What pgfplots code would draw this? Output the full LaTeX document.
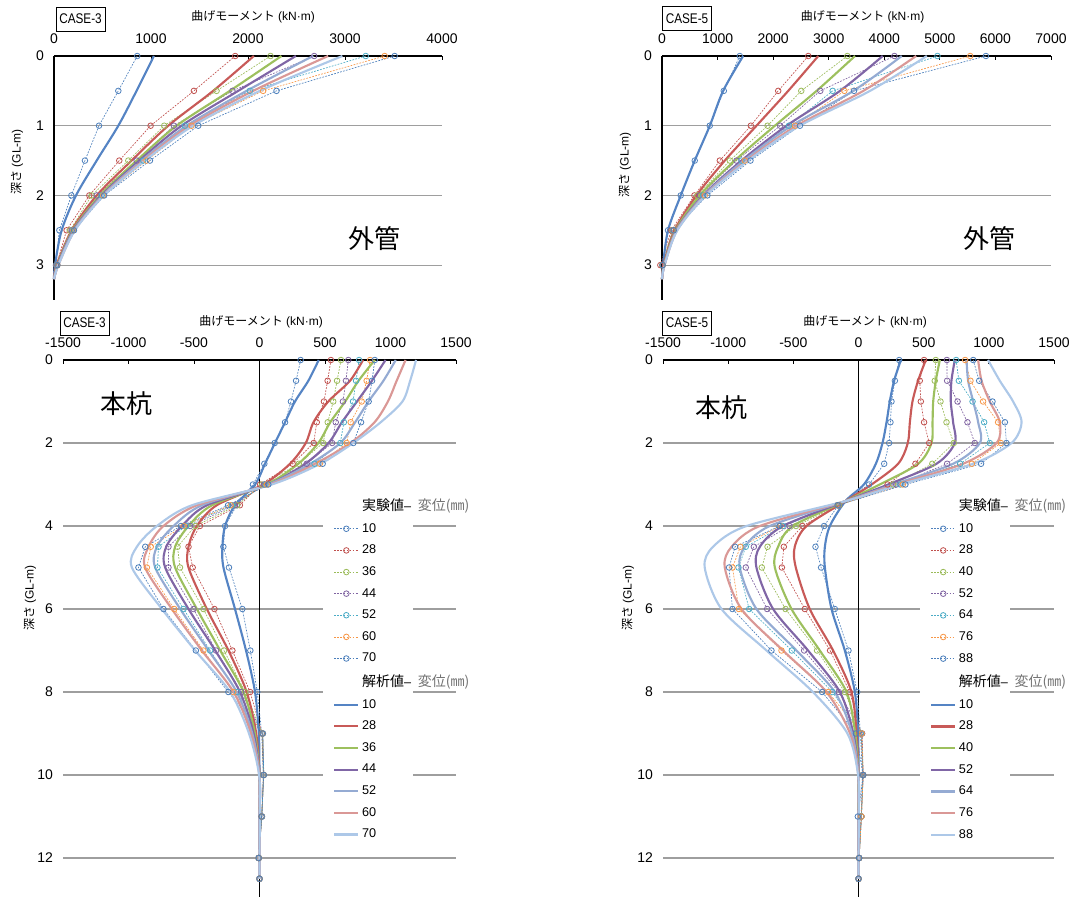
\documentclass[border=0pt]{standalone}
\usepackage{pgfplots}
\pgfplotsset{compat=1.18}
\usepackage{graphicx}
\usepackage{fontspec}
\setmainfont{Liberation Sans}
\newfontfamily\cjk{Noto Sans CJK JP}
\definecolor{c1}{HTML}{4F81BD}
\definecolor{c2}{HTML}{C0504D}
\definecolor{c3}{HTML}{9BBB59}
\definecolor{c4}{HTML}{8064A2}
\definecolor{c5}{HTML}{4BACC6}
\definecolor{c6}{HTML}{F79646}
\definecolor{c7}{HTML}{4A7EBB}
\definecolor{a1}{HTML}{5584C4}
\definecolor{a2}{HTML}{C85A58}
\definecolor{a3}{HTML}{9DC05E}
\definecolor{a4}{HTML}{8066A6}
\definecolor{a5}{HTML}{95ABD3}
\definecolor{a6}{HTML}{DA9896}
\definecolor{a7}{HTML}{ADC8E8}
\newcommand{\lab}[1]{\makebox[30pt][l]{#1}}
\newcommand{\hdr}[1]{\rlap{{\cjk\fontsize{10.5}{11}\selectfont #1}\textendash\hspace{5pt}{\color{black!55}\cjk\fontsize{10.5}{11}\selectfont 変位(㎜)}}}
\pgfplotsset{
  base/.style={scale only axis, y dir=reverse, clip=false,
    axis line style={draw=none},
    xtick pos=right, xticklabel pos=right, ytick pos=left,
    tick align=inside, major tick length=3pt,
    xtick style={black, line width=0.6pt}, ytick style={draw=none},
    ymajorgrids, grid style={color=black!38, line width=0.9pt},
    tick label style={font=\fontsize{10.5}{12}\selectfont},
    /pgf/number format/assume math mode=true, /pgf/number format/1000 sep={},
    yticklabel style={xshift=-4pt}, xticklabel style={yshift=5.5pt},
  },
  exp/.style={line width=0.5pt, dash pattern=on 1.3pt off 1pt, mark=o, mark size=2.1pt, mark options={solid, line width=0.6pt}},
  ana/.style={line width=1.6pt, smooth, mark=none},
  leg/.style={legend style={at={(#1,0.752)}, anchor=north west, draw=none, fill=white,
    inner xsep=7.5pt, inner ysep=3.5pt, row sep=7.1pt,
    font=\fontsize{9.5}{10}\selectfont,
    nodes={inner sep=0.5pt},
    /tikz/every odd column/.append style={column sep=1.5pt}},
    legend cell align=left,
    legend image code/.code={\draw[mark repeat=2,mark phase=2,##1] plot coordinates {(0pt,0pt)(9pt,0pt)(18pt,0pt)};}},
}
\begin{document}
\begin{tikzpicture}[x=0.75pt,y=-0.75pt]
\path[use as bounding box] (0,0) rectangle (1073,899);

%% ---------------- top left: CASE-3 outer pipe
\begin{axis}[base, at={(186pt,-133.5pt)}, anchor=center, width=291pt, height=183pt,
  xmin=0, xmax=4000, ymin=0, ymax=3.5, xtick={0,1000,...,4000}, ytick={0,1,2,3}]
\draw[black, line width=0.8pt] (axis cs:0,0) -- (axis cs:4000,0);
\draw[black, line width=0.8pt] (axis cs:0,0) -- (axis cs:0,3.5);
\addplot[exp, c1] coordinates {(858,0)(663,0.5)(464,1)(319,1.5)(179,2)(55,2.5)(20,3)};
\addplot[exp, c2] coordinates {(1868,0)(1442,0.5)(996,1)(673,1.5)(364,2)(130,2.5)(25,3)};
\addplot[exp, c3] coordinates {(2232,0)(1676,0.5)(1136,1)(766,1.5)(388,2)(165,2.5)(30,3)};
\addplot[exp, c4] coordinates {(2682,0)(1840,0.5)(1236,1)(852,1.5)(440,2)(182,2.5)(30,3)};
\addplot[exp, c5] coordinates {(3214,0)(2019,0.5)(1349,1)(920,1.5)(491,2)(192,2.5)(30,3)};
\addplot[exp, c6] coordinates {(3409,0)(2156,0.5)(1418,1)(954,1.5)(508,2)(199,2.5)(35,3)};
\addplot[exp, c7] coordinates {(3512,0)(2294,0.5)(1487,1)(989,1.5)(518,2)(206,2.5)(35,3)};
\addplot[ana, a1] coordinates {(1030,0)(851,0.5)(663,1)(440,1.5)(227,2)(79,2.5)(10,3)(0,3.2)};
\addplot[ana, a2] coordinates {(2060,0)(1641,0.5)(1178,1)(800,1.5)(440,2)(182,2.5)(27,3)(0,3.2)};
\addplot[ana, a3] coordinates {(2345,0)(1813,0.5)(1264,1)(852,1.5)(474,2)(192,2.5)(34,3)(0,3.2)};
\addplot[ana, a4] coordinates {(2493,0)(1899,0.5)(1315,1)(879,1.5)(491,2)(199,2.5)(38,3)(0,3.2)};
\addplot[ana, a5] coordinates {(2671,0)(1985,0.5)(1367,1)(903,1.5)(501,2)(206,2.5)(41,3)(0,3.2)};
\addplot[ana, a6] coordinates {(2826,0)(2053,0.5)(1401,1)(920,1.5)(508,2)(213,2.5)(45,3)(0,3.2)};
\addplot[ana, a7] coordinates {(2973,0)(2122,0.5)(1435,1)(937,1.5)(515,2)(216,2.5)(45,3)(0,3.2)};
\end{axis}

%% ---------------- top right: CASE-5 outer pipe
\begin{axis}[base, at={(642.375pt,-133.5pt)}, anchor=center, width=291.75pt, height=183pt,
  xmin=0, xmax=7000, ymin=0, ymax=3.5, xtick={0,1000,...,7000}, ytick={0,1,2,3}]
\draw[black, line width=0.8pt] (axis cs:0,0) -- (axis cs:7000,0);
\draw[black, line width=0.8pt] (axis cs:0,0) -- (axis cs:0,3.5);
\addplot[exp, c1] coordinates {(1400,0)(1112,0.5)(859,1)(589,1.5)(337,2)(108,2.5)(5,3)};
\addplot[exp, c2] coordinates {(2632,0)(2091,0.5)(1598,1)(1040,1.5)(583,2)(168,2.5)(-30,3)};
\addplot[exp, c3] coordinates {(3335,0)(2506,0.5)(1899,1)(1220,1.5)(637,2)(186,2.5)(5,3)};
\addplot[exp, c4] coordinates {(4182,0)(2848,0.5)(2127,1)(1340,1.5)(679,2)(195,2.5)(10,3)};
\addplot[exp, c5] coordinates {(4957,0)(3071,0.5)(2283,1)(1430,1.5)(739,2)(200,2.5)(10,3)};
\addplot[exp, c6] coordinates {(5546,0)(3281,0.5)(2392,1)(1490,1.5)(769,2)(205,2.5)(10,3)};
\addplot[exp, c7] coordinates {(5829,0)(3455,0.5)(2482,1)(1592,1.5)(817,2)(210,2.5)(10,3)};
\addplot[ana, a1] coordinates {(1460,0)(1100,0.5)(860,1)(589,1.5)(337,2)(108,2.5)(18,3)(0,3.2)};
\addplot[ana, a2] coordinates {(2812,0)(2271,0.5)(1700,1)(1130,1.5)(619,2)(228,2.5)(30,3)(0,3.2)};
\addplot[ana, a3] coordinates {(3473,0)(2782,0.5)(2031,1)(1310,1.5)(679,2)(246,2.5)(36,3)(0,3.2)};
\addplot[ana, a4] coordinates {(3972,0)(3203,0.5)(2241,1)(1430,1.5)(739,2)(258,2.5)(42,3)(0,3.2)};
\addplot[ana, a5] coordinates {(4314,0)(3443,0.5)(2332,1)(1472,1.5)(757,2)(264,2.5)(42,3)(0,3.2)};
\addplot[ana, a6] coordinates {(4573,0)(3623,0.5)(2422,1)(1520,1.5)(775,2)(270,2.5)(45,3)(0,3.2)};
\addplot[ana, a7] coordinates {(4765,0)(3744,0.5)(2482,1)(1550,1.5)(787,2)(276,2.5)(45,3)(0,3.2)};
\end{axis}

%% ---------------- bottom left: CASE-3 main pile
\begin{axis}[base, leg=0.6616, at={(194.625pt,-471.375pt)}, anchor=center, width=294.75pt, height=402.75pt,
  xmin=-1500, xmax=1500, ymin=0, ymax=12.94, xtick={-1500,-1000,...,1500}, ytick={0,2,...,12}]
\draw[black, line width=0.8pt] (axis cs:-1500,0) -- (axis cs:1500,0);
\draw[black, line width=0.8pt] (axis cs:0,0) -- (axis cs:0,12.94);
\addlegendimage{empty legend}\addlegendentry{\hdr{実験値}}
\addplot[exp, c1] coordinates {(314,0)(279,0.5)(240,1)(195,1.5)(116,2)(37,2.5)(-50,3)(-174,3.5)(-263,4)(-276,4.5)(-233,5)(-131,6)(-70,7)(-17,8)(17,9)(29,10)(19,11)(-8,12)(0,12.5)};
\addlegendentry{\lab{10}}
\addplot[exp, c2] coordinates {(545,0)(520,0.5)(492,1)(437,1.5)(414,2)(253,2.5)(5,3)(-150,3.5)(-455,4)(-542,4.5)(-510,5)(-344,6)(-207,7)(-72,8)(20,9)(30,10)(18,11)(-6,12)(0,12.5)};
\addlegendentry{\lab{28}}
\addplot[exp, c3] coordinates {(622,0)(592,0.5)(563,1)(521,1.5)(485,2)(300,2.5)(20,3)(-170,3.5)(-490,4)(-626,4.5)(-607,5)(-428,6)(-271,7)(-110,8)(22,9)(30,10)(18,11)(-6,12)(0,12.5)};
\addlegendentry{\lab{36}}
\addplot[exp, c4] coordinates {(678,0)(660,0.5)(637,1)(582,1.5)(554,2)(360,2.5)(35,3)(-190,3.5)(-530,4)(-695,4.5)(-695,5)(-504,6)(-332,7)(-140,8)(24,9)(32,10)(17,11)(-6,12)(0,12.5)};
\addlegendentry{\lab{44}}
\addplot[exp, c5] coordinates {(760,0)(737,0.5)(714,1)(644,1.5)(617,2)(420,2.5)(45,3)(-210,3.5)(-560,4)(-771,4.5)(-779,5)(-580,6)(-377,7)(-170,8)(25,9)(32,10)(17,11)(-6,12)(0,12.5)};
\addlegendentry{\lab{52}}
\addplot[exp, c6] coordinates {(844,0)(818,0.5)(780,1)(696,1.5)(666,2)(460,2.5)(55,3)(-220,3.5)(-580,4)(-830,4.5)(-860,5)(-651,6)(-428,7)(-200,8)(25,9)(33,10)(16,11)(-6,12)(0,12.5)};
\addlegendentry{\lab{60}}
\addplot[exp, c7] coordinates {(880,0)(859,0.5)(833,1)(775,1.5)(716,2)(482,2.5)(67,3)(-240,3.5)(-600,4)(-872,4.5)(-924,5)(-733,6)(-486,7)(-238,8)(25,9)(33,10)(16,11)(-6,12)(0,12.5)};
\addlegendentry{\lab{70}}
\addlegendimage{empty legend}\addlegendentry{\hdr{解析値}}
\addplot[ana, a1] coordinates {(452,0)(373,0.5)(271,1)(195,1.5)(118,2)(42,2.5)(-34,3)(-187,3.5)(-263,4)(-283,4.5)(-275,5)(-187,6)(-103,7)(-34,8)(-5,9)(0,10)(2,11)(0,12)(0,12.5)};
\addlegendentry{\lab{10}}
\addplot[ana, a2] coordinates {(790,0)(691,0.5)(525,1)(412,1.5)(353,2)(233,2.5)(27,3)(-327,3.5)(-478,4)(-542,4.5)(-542,5)(-402,6)(-237,7)(-98,8)(-25,9)(0,10)(2,11)(0,12)(0,12.5)};
\addlegendentry{\lab{28}}
\addplot[ana, a3] coordinates {(880,0)(756,0.5)(654,1)(540,1.5)(449,2)(296,2.5)(55,3)(-363,3.5)(-542,4)(-644,4.5)(-644,5)(-478,6)(-300,7)(-122,8)(-35,9)(0,10)(2,11)(0,12)(0,12.5)};
\addlegendentry{\lab{36}}
\addplot[ana, a4] coordinates {(962,0)(858,0.5)(744,1)(629,1.5)(527,2)(349,2.5)(68,3)(-402,3.5)(-593,4)(-712,4.5)(-720,5)(-542,6)(-338,7)(-149,8)(-45,9)(0,10)(2,11)(0,12)(0,12.5)};
\addlegendentry{\lab{44}}
\addplot[ana, a5] coordinates {(1040,0)(946,0.5)(832,1)(730,1.5)(617,2)(387,2.5)(66,3)(-440,3.5)(-656,4)(-783,4.5)(-796,5)(-605,6)(-389,7)(-174,8)(-55,9)(0,10)(2,11)(0,12)(0,12.5)};
\addlegendentry{\lab{52}}
\addplot[ana, a6] coordinates {(1115,0)(1047,0.5)(980,1)(878,1.5)(695,2)(424,2.5)(80,3)(-478,3.5)(-733,4)(-847,4.5)(-873,5)(-669,6)(-440,7)(-198,8)(-65,9)(-2,10)(2,11)(0,12)(0,12.5)};
\addlegendentry{\lab{60}}
\addplot[ana, a7] coordinates {(1195,0)(1150,0.5)(1091,1)(925,1.5)(715,2)(463,2.5)(93,3)(-516,3.5)(-783,4)(-936,4.5)(-974,5)(-745,6)(-491,7)(-224,8)(-80,9)(-3,10)(2,11)(0,12)(0,12.5)};
\addlegendentry{\lab{70}}
\end{axis}

%% ---------------- bottom right: CASE-5 main pile
\begin{axis}[base, leg=0.657, at={(643.875pt,-471.375pt)}, anchor=center, width=293.25pt, height=402.75pt,
  xmin=-1500, xmax=1500, ymin=0, ymax=12.94, xtick={-1500,-1000,...,1500}, ytick={0,2,...,12}]
\draw[black, line width=0.8pt] (axis cs:-1500,0) -- (axis cs:1500,0);
\draw[black, line width=0.8pt] (axis cs:0,0) -- (axis cs:0,12.94);
\addlegendimage{empty legend}\addlegendentry{\hdr{実験値}}
\addplot[exp, c1] coordinates {(312,0)(279,0.5)(253,1)(245,1.5)(235,2)(197,2.5)(81,3)(-156,3.5)(-264,4)(-330,4.5)(-287,5)(-182,6)(-77,7)(-10,8)(15,9)(30,10)(20,11)(5,12)(0,12.5)};
\addlegendentry{\lab{10}}
\addplot[exp, c2] coordinates {(503,0)(470,0.5)(478,1)(503,1.5)(542,2)(437,2.5)(223,3)(-150,3.5)(-430,4)(-573,4.5)(-588,5)(-412,6)(-218,7)(-67,8)(20,9)(35,10)(22,11)(5,12)(0,12.5)};
\addlegendentry{\lab{28}}
\addplot[exp, c3] coordinates {(593,0)(585,0.5)(629,1)(675,1.5)(731,2)(566,2.5)(266,3)(-150,3.5)(-480,4)(-698,4.5)(-742,5)(-560,6)(-318,7)(-105,8)(25,9)(35,10)(22,11)(5,12)(0,12.5)};
\addlegendentry{\lab{40}}
\addplot[exp, c4] coordinates {(678,0)(680,0.5)(760,1)(836,1.5)(892,2)(680,2.5)(290,3)(-155,3.5)(-530,4)(-803,4.5)(-865,5)(-701,6)(-417,7)(-151,8)(28,9)(36,10)(22,11)(5,12)(0,12.5)};
\addlegendentry{\lab{52}}
\addplot[exp, c5] coordinates {(749,0)(770,0.5)(875,1)(964,1.5)(1007,2)(780,2.5)(320,3)(-160,3.5)(-580,4)(-865,4.5)(-921,5)(-839,6)(-512,7)(-200,8)(20,9)(36,10)(22,11)(5,12)(0,12.5)};
\addlegendentry{\lab{64}}
\addplot[exp, c6] coordinates {(818,0)(859,0.5)(956,1)(1071,1.5)(1092,2)(870,2.5)(340,3)(-160,3.5)(-600,4)(-906,4.5)(-967,5)(-918,6)(-591,7)(-233,8)(25,9)(36,10)(22,11)(5,12)(0,12.5)};
\addlegendentry{\lab{76}}
\addplot[exp, c7] coordinates {(880,0)(926,0.5)(1028,1)(1123,1.5)(1135,2)(940,2.5)(360,3)(-160,3.5)(-605,4)(-947,4.5)(-993,5)(-967,6)(-668,7)(-279,8)(-20,9)(36,10)(-5,11)(5,12)(0,12.5)};
\addlegendentry{\lab{88}}
\addlegendimage{empty legend}\addlegendentry{\hdr{解析値}}
\addplot[ana, a1] coordinates {(325,0)(273,0.5)(240,1)(215,1.5)(184,2)(133,2.5)(41,3)(-100,3.4)(-220,4)(-258,4.5)(-258,5)(-207,6)(-105,7)(-28,8)(-3,9)(0,10)(2,11)(0,12)(0,12.5)};
\addlegendentry{\lab{10}}
\addplot[ana, a2] coordinates {(516,0)(457,0.5)(414,1)(394,1.5)(378,2)(304,2.5)(100,3)(-100,3.4)(-399,4)(-489,4.5)(-481,5)(-374,6)(-195,7)(-54,8)(-15,9)(0,10)(2,11)(0,12)(0,12.5)};
\addlegendentry{\lab{28}}
\addplot[ana, a3] coordinates {(624,0)(593,0.5)(573,1)(568,1.5)(560,2)(458,2.5)(163,3)(-100,3.4)(-504,4)(-617,4.5)(-642,5)(-514,6)(-297,7)(-92,8)(-25,9)(0,10)(2,11)(0,12)(0,12.5)};
\addlegendentry{\lab{40}}
\addplot[ana, a4] coordinates {(739,0)(713,0.5)(708,1)(726,1.5)(739,2)(598,2.5)(227,3)(-100,3.4)(-580,4)(-757,4.5)(-783,5)(-655,6)(-387,7)(-143,8)(-40,9)(0,10)(2,11)(0,12)(0,12.5)};
\addlegendentry{\lab{52}}
\addplot[ana, a5] coordinates {(829,0)(841,0.5)(880,1)(918,1.5)(931,2)(726,2.5)(266,3)(-100,3.4)(-681,4)(-872,4.5)(-911,5)(-783,6)(-476,7)(-182,8)(-50,9)(0,10)(2,11)(0,12)(0,12.5)};
\addlegendentry{\lab{64}}
\addplot[ana, a6] coordinates {(918,0)(944,0.5)(1007,1)(1084,1.5)(1059,2)(803,2.5)(292,3)(-100,3.4)(-757,4)(-974,4.5)(-1026,5)(-898,6)(-579,7)(-246,8)(-65,9)(-2,10)(2,11)(0,12)(0,12.5)};
\addlegendentry{\lab{76}}
\addplot[ana, a7] coordinates {(994,0)(1084,0.5)(1186,1)(1251,1.5)(1174,2)(880,2.5)(317,3)(-100,3.4)(-859,4)(-1116,4.5)(-1180,5)(-1051,6)(-706,7)(-350,8)(-85,9)(-3,10)(2,11)(0,12)(0,12.5)};
\addlegendentry{\lab{88}}
\end{axis}

%% ---------------- texts
\tikzset{casebox/.style={draw, line width=0.6pt, inner sep=0pt, minimum width=36.75pt, minimum height=18pt, font=\fontsize{10.5}{12}\selectfont},
  ttl/.style={font=\fontsize{9}{10}\selectfont},
  big/.style={font=\cjk\fontsize{19.5}{20}\selectfont}}
\node[casebox] at (80.5,19) {\scalebox{0.84}[1]{CASE-3}};
\node[casebox] at (687,18.5) {\scalebox{0.84}[1]{CASE-5}};
\node[casebox] at (84.5,323) {\scalebox{0.84}[1]{CASE-3}};
\node[casebox] at (687,323) {\scalebox{0.84}[1]{CASE-5}};
\node[ttl] at (253,17) {{\cjk 曲げモーメント} (kN·m)};
\node[ttl] at (862.5,17) {{\cjk 曲げモーメント} (kN·m)};
\node[ttl] at (261,322) {{\cjk 曲げモーメント} (kN·m)};
\node[ttl] at (865,322) {{\cjk 曲げモーメント} (kN·m)};
\node[ttl, rotate=90] at (17,162) {{\cjk 深さ} (GL-m)};
\node[ttl, rotate=90] at (625,165) {{\cjk 深さ} (GL-m)};
\node[ttl, rotate=90] at (30,598) {{\cjk 深さ} (GL-m)};
\node[ttl, rotate=90] at (628,598) {{\cjk 深さ} (GL-m)};
\node[big] at (374,239) {外管};
\node[big] at (989,239) {外管};
\node[big] at (126.5,403.5) {本杭};
\node[big] at (721.5,408) {本杭};
\end{tikzpicture}
\end{document}
